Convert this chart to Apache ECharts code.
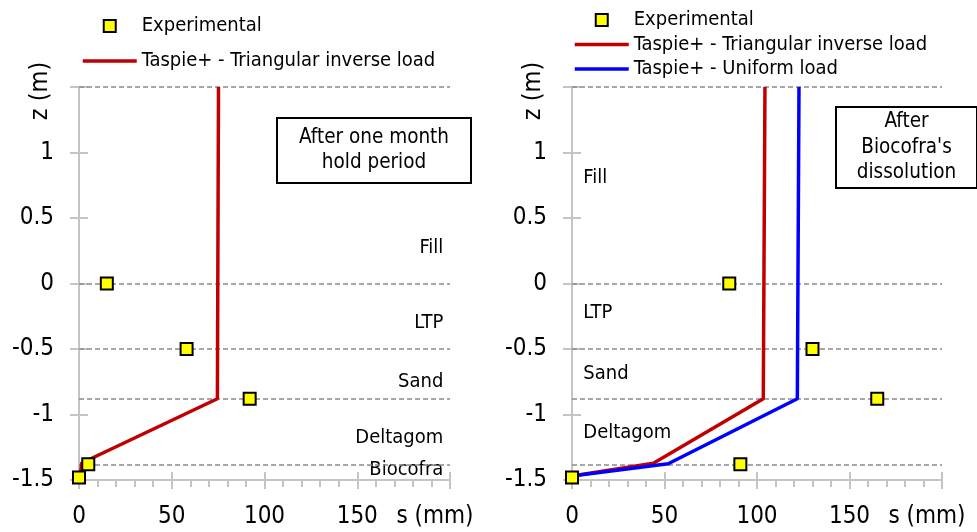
<!DOCTYPE html>
<html><head><meta charset="utf-8">
<script src="https://cdn.jsdelivr.net/npm/echarts@6/dist/echarts.min.js"></script>
<style>html,body{margin:0;padding:0;background:#fff}#c{width:977px;height:532px}</style>
</head><body><div id="c"></div>
<script>
// ---- data ----
const boundariesZ = [1.5, 0, -0.5, -0.88, -1.38];
const leftExpS = [15, 58, 92, 5, 0];
const leftExpZ = [0, -0.5, -0.88, -1.38, -1.48];
const leftTriS = [75.2, 74.6, 1.5, 0.8];
const leftTriZ = [1.5, -0.88, -1.37, -1.45];
const rightExpS = [85, 130, 165, 91, 0];
const rightExpZ = [0, -0.5, -0.88, -1.38, -1.48];
const rightTriS = [104.3, 103.4, 44, 0];
const rightTriZ = [1.5, -0.88, -1.372, -1.47];
const rightUniS = [122.7, 121.8, 52, 0];
const rightUniZ = [1.5, -0.88, -1.376, -1.47];
const leftLayerNames = ['Fill', 'LTP', 'Sand', 'Deltagom', 'Biocofra'];
const leftLayerZ = [0.27, -0.30, -0.75, -1.18, -1.42];
const rightLayerNames = ['Fill', 'LTP', 'Sand', 'Deltagom'];
const rightLayerZ = [0.81, -0.22, -0.69, -1.14];
const xTickValues = [0, 50, 100, 150];
const sName = 's (mm)';
const zName = 'z (m)';
const EXP = 'Experimental', TRI = 'Taspie+ - Triangular inverse load', UNI = 'Taspie+ - Uniform load';

// ---- styles ----
const FONT = '"DejaVu Sans Condensed", "DejaVu Sans", sans-serif';
const AX = '#c4c4c4';
const zip = (a, b) => a.map((v, i) => [v, b[i]]);
const grids = [
  {left: 79, top: 87, width: 371, height: 393},
  {left: 572, top: 87, width: 370, height: 393}
];
function xAxes(g) {
  return [{
    type: 'value', gridIndex: g, min: 0, max: 200, interval: 50, position: 'bottom',
    axisLine: {show: true, onZero: false, lineStyle: {color: AX, width: 2}},
    axisTick: {show: true, length: 9, lineStyle: {color: AX, width: 2}},
    minorTick: {show: true, splitNumber: 5, length: 7, lineStyle: {color: AX, width: 2}},
    splitLine: {show: false},
    axisLabel: {margin: 25, fontSize: 24, color: '#000', fontFamily: FONT,
      formatter: v => xTickValues.indexOf(v) >= 0 ? String(v) : (v === 200 ? '{n|' + sName + '}' : ''),
      rich: {n: {fontSize: 24, fontFamily: FONT, color: '#000', padding: [0, 30, 0, 0]}}}
  }, {
    type: 'value', gridIndex: g, min: 0, max: 200, interval: 50, position: 'top', offset: -393,
    axisLine: {show: false, onZero: false},
    axisTick: {show: true, inside: false, length: 8, lineStyle: {color: AX, width: 2}},
    axisLabel: {show: false}, splitLine: {show: false}
  }];
}
function yAxes(g, w) {
  return [{
    type: 'value', gridIndex: g, min: -1.5, max: 1.5, interval: 0.5, position: 'left',
    axisLine: {show: true, onZero: false, lineStyle: {color: AX, width: 2}},
    axisTick: {show: true, length: 9, lineStyle: {color: AX, width: 2}},
    splitLine: {show: false},
    axisLabel: {margin: 25, fontSize: 24, color: '#000', fontFamily: FONT,
      formatter: v => v >= 1.5 ? '' : String(v)}
  }, {
    type: 'value', gridIndex: g, min: -1.5, max: 1.5, interval: 0.5, position: 'right', offset: -w,
    axisLine: {show: false, onZero: false},
    axisTick: {show: true, inside: false, length: 9, lineStyle: {color: AX, width: 2}},
    axisLabel: {show: false}, splitLine: {show: false}
  }];
}
const expStyle = {color: '#ffff00', borderColor: '#000', borderWidth: 2, opacity: 1};
function expSeries(xi, yi, s, z) {
  return {
    name: EXP, type: 'scatter', xAxisIndex: xi, yAxisIndex: yi, symbol: 'rect', symbolSize: 12,
    itemStyle: expStyle, z: 10, data: zip(s, z),
    markLine: {silent: true, symbol: 'none', label: {show: false}, animation: false,
      lineStyle: {type: [5, 3], color: '#8a8a8a', width: 1.5},
      data: boundariesZ.map(v => ({yAxis: v}))}
  };
}
function lineSeries(name, color, xi, yi, s, z) {
  return {name, type: 'line', xAxisIndex: xi, yAxisIndex: yi, symbol: 'none', showSymbol: false,
    lineStyle: {color, width: 3.5}, itemStyle: {color}, z: 5, data: zip(s, z)};
}
function layerSeries(xi, yi, names, zs, xAnchor, pos) {
  return {type: 'scatter', xAxisIndex: xi, yAxisIndex: yi, symbolSize: 0, silent: true, z: 3,
    itemStyle: {opacity: 1},
    data: names.map((n, i) => ({value: [xAnchor, zs[i]], name: n})),
    label: {show: true, position: pos, distance: 0, formatter: p => p.name,
      fontSize: 20, fontFamily: FONT, color: '#000', opacity: 1}};
}
function box(x, y, w, h, lines, lineH) {
  return {type: 'group', left: x, top: y, children: [
    {type: 'rect', shape: {x: 0, y: 0, width: w, height: h}, style: {fill: '#fff', stroke: '#000', lineWidth: 2}},
    {type: 'text', x: w / 2, y: h / 2, style: {text: lines.join('\n'), fontSize: 20.5, fontFamily: FONT, fill: '#000',
      align: 'center', verticalAlign: 'middle', lineHeight: lineH}}
  ]};
}
const legendText = {fontSize: 20, fontFamily: FONT, color: '#000'};
const SQ = 'path://M0,0M54,12M21,0h12v12h-12z';
const legEntry = n => n === EXP ? {name: n, icon: SQ} : {name: n, itemStyle: {opacity: 0}, lineStyle: {width: 3.5}};
const option = {
  animation: false,
  textStyle: {fontFamily: FONT},
  grid: grids,
  xAxis: [...xAxes(0), ...xAxes(1)],
  yAxis: [...yAxes(0, 371), ...yAxes(1, 370)],
  legend: [
    {left: 81, top: 16, padding: 0, orient: 'vertical', itemWidth: 54, itemHeight: 12, itemGap: 15,
      textStyle: legendText, data: [EXP, TRI].map(legEntry), selectedMode: false},
    {left: 573, top: 10, padding: 0, orient: 'vertical', itemWidth: 54, itemHeight: 12, itemGap: 4.5,
      textStyle: legendText, data: [EXP, TRI, UNI].map(legEntry), selectedMode: false}
  ],
  series: [
    lineSeries(TRI, '#c00000', 0, 0, leftTriS, leftTriZ),
    expSeries(0, 0, leftExpS, leftExpZ),
    layerSeries(0, 0, leftLayerNames, leftLayerZ, 196.4, 'left'),
    lineSeries(TRI, '#c00000', 2, 2, rightTriS, rightTriZ),
    lineSeries(UNI, '#0000ff', 2, 2, rightUniS, rightUniZ),
    expSeries(2, 2, rightExpS, rightExpZ),
    layerSeries(2, 2, rightLayerNames, rightLayerZ, 6.1, 'right')
  ],
  graphic: [
    {type: 'text', x: 40, y: 91, rotation: Math.PI / 2, style: {text: zName, fontSize: 25, fontFamily: FONT, fill: '#000', align: 'center', verticalAlign: 'middle'}},
    {type: 'text', x: 533, y: 91, rotation: Math.PI / 2, style: {text: zName, fontSize: 25, fontFamily: FONT, fill: '#000', align: 'center', verticalAlign: 'middle'}},
    box(276, 117, 194, 65, ['After one month', 'hold period'], 25),
    box(835, 106, 141, 81, ['After', "Biocofra's", 'dissolution'], 25.5)
  ]
};
const chart = echarts.init(document.getElementById('c'));
chart.setOption(option);
</script></body></html>
